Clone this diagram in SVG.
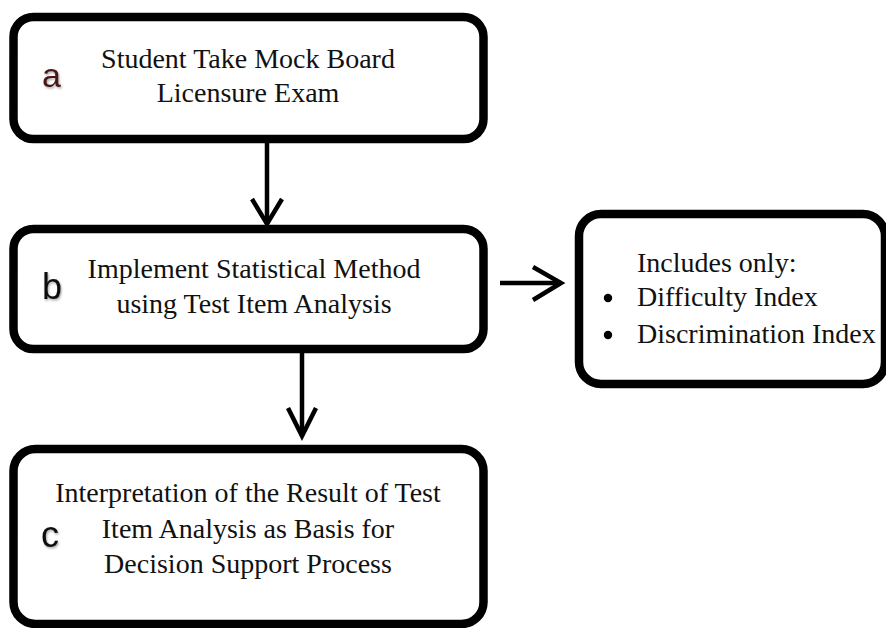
<svg xmlns="http://www.w3.org/2000/svg" width="886" height="628" viewBox="0 0 886 628">
<style>
.box{fill:#fff;stroke:#000;stroke-width:8.5}
.t{font-family:"Liberation Serif","Times New Roman",serif;font-size:28px;fill:#111}
.lbl{font-family:"Liberation Sans",Arial,sans-serif;font-size:36px;fill:#111}
.con{fill:none;stroke:#000;stroke-width:4.5;stroke-linecap:butt;stroke-linejoin:miter}
</style>
<defs>
<filter id="sh" x="-50%" y="-50%" width="200%" height="200%">
<feDropShadow dx="1" dy="1.5" stdDeviation="1.2" flood-color="#000" flood-opacity="0.35"/>
</filter>
</defs>
<rect width="886" height="628" fill="#fff"/>
<g id="connectors">
<path class="con" d="M267,142 V224"/>
<path class="con" d="M252,199 L267,224 L282,199"/>
<path class="con" d="M302,338 V436"/>
<path class="con" d="M288,408 L302,436 L316,408"/>
<path class="con" d="M500,283 H561"/>
<path class="con" d="M533,267 L561,283 L533,300"/>
</g>
<g id="node-a">
<rect class="box" x="13.5" y="17" width="470" height="122" rx="20"/>
<text class="lbl" x="42" y="87" style="font-size:34px;fill:#4a1818" filter="url(#sh)">a</text>
<text class="t" x="248" y="68" text-anchor="middle">Student Take Mock Board</text>
<text class="t" x="248" y="102" text-anchor="middle">Licensure Exam</text>
</g>
<g id="node-b">
<rect class="box" x="13.5" y="229" width="470" height="120" rx="20"/>
<text class="lbl" x="42" y="299" filter="url(#sh)">b</text>
<text class="t" x="254" y="278" text-anchor="middle">Implement Statistical Method</text>
<text class="t" x="254" y="313" text-anchor="middle">using Test Item Analysis</text>
</g>
<g id="node-d">
<rect class="box" x="579" y="214" width="306" height="170" rx="22"/>
<text class="t" x="637" y="272">Includes only:</text>
<circle cx="608" cy="298" r="4.2" fill="#000"/>
<text class="t" x="637" y="306">Difficulty Index</text>
<circle cx="608" cy="335" r="4.2" fill="#000"/>
<text class="t" x="637" y="343">Discrimination Index</text>
</g>
<g id="node-c">
<rect class="box" x="13.5" y="449" width="470" height="175" rx="22"/>
<text class="lbl" x="41" y="547" filter="url(#sh)">c</text>
<text class="t" x="248" y="502" text-anchor="middle">Interpretation of the Result of Test</text>
<text class="t" x="248" y="538" text-anchor="middle">Item Analysis as Basis for</text>
<text class="t" x="248" y="573" text-anchor="middle">Decision Support Process</text>
</g>
</svg>
